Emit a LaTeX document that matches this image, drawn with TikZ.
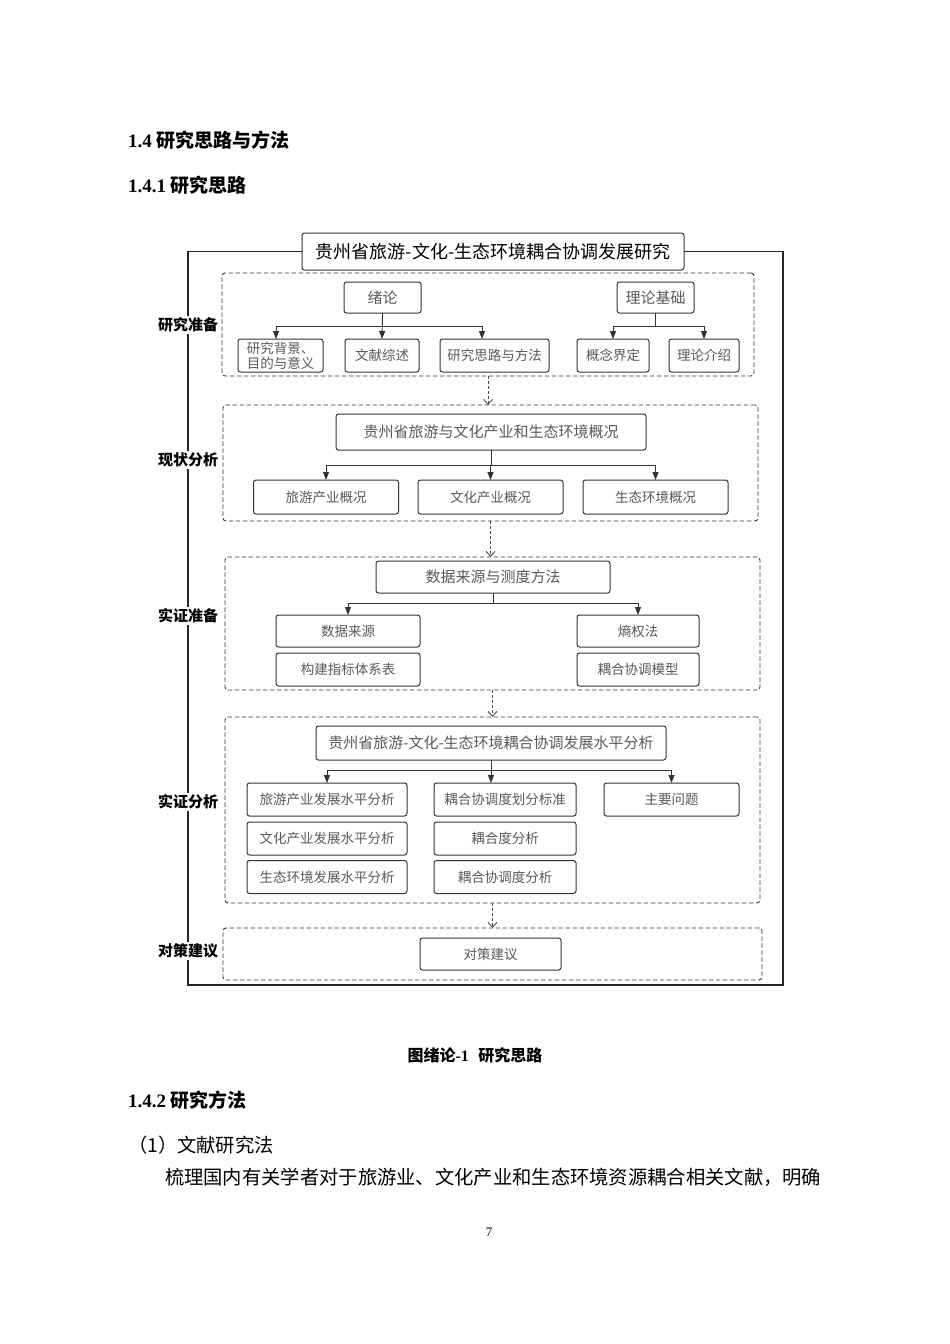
\documentclass[tikz,border=0pt]{standalone}
\usepackage{fontspec}
\setmainfont{Liberation Serif}
\newfontfamily\cjk{Noto Sans CJK SC}
\usetikzlibrary{arrows.meta}

\begin{document}
\begin{tikzpicture}[
    x=1pt,y=-1pt,
    every node/.style={inner sep=0pt, outer sep=0pt},
    frame/.style={draw=black!85, line width=1.1pt},
    stage/.style={draw=black!78, line width=0.9pt, dash pattern=on 4.5pt off 2.5pt, rounded corners=3pt},
    box/.style={draw=black!80, line width=1pt, rounded corners=2.5pt, fill=white, text=black!65, align=center, font=\cjk\fontsize{13.5}{15}\selectfont},
    headbox/.style={box, font=\cjk\fontsize{15}{18}\selectfont},
    tag/.style={fill=white, inner sep=1.5pt, font=\cjk\bfseries\fontsize{15}{18}\selectfont},
    branch/.style={draw=black!80, line width=0.9pt, -{Triangle[length=8pt,width=6pt]}},
    flow/.style={draw=black!70, line width=0.9pt, dash pattern=on 3pt off 2pt, -{Straight Barb[length=5pt,width=9pt]}},
    heading/.style={anchor=west, font=\bfseries\fontsize{19}{23}\selectfont},
    bodytext/.style={anchor=west, font=\cjk\fontsize{19.3}{23}\selectfont}
]
    \fill[white] (0,0) rectangle (950,1344);
    \useasboundingbox (0,0) rectangle (950,1344);

    % headings
    \node[heading] (h14) at (128,140) {1.4 {\cjk 研究思路与方法}};
    \node[heading] (h141) at (128,185) {1.4.1 {\cjk 研究思路}};

    % outer frame with title
    \node[box, text=black, minimum width=382pt, minimum height=37pt, font=\cjk\fontsize{18}{21}\selectfont] (title) at (493,251.5) {贵州省旅游-文化-生态环境耦合协调发展研究};
    \coordinate (fbl) at (188,985);
    \coordinate (ftr) at (783,251.5);
    \draw[frame] (title.west) -| (fbl) -| (ftr) -- (title.east);

    % stages
    \node[stage, minimum width=532pt, minimum height=103pt] (s1) at (488,324.5) {};
    \node[stage, minimum width=535pt, minimum height=116pt] (s2) at (490.5,463) {};
    \node[stage, minimum width=535pt, minimum height=133pt] (s3) at (492.5,623.5) {};
    \node[stage, minimum width=535pt, minimum height=186pt] (s4) at (492.5,810) {};
    \node[stage, minimum width=539pt, minimum height=52pt] (s5) at (492.5,954) {};

    \node[tag] (t1) at (188,325) {研究准备};
    \node[tag] (t2) at (188,460) {现状分析};
    \node[tag] (t3) at (188,616) {实证准备};
    \node[tag] (t4) at (188,802) {实证分析};
    \node[tag] (t5) at (188,951) {对策建议};

    \draw[flow] (s1.south) -- (s1.south |- s2.north);
    \draw[flow] (s2.south) -- (s2.south |- s3.north);
    \draw[flow] (s3.south) -- (s3.south |- s4.north);
    \draw[flow] (s4.south) -- (s4.south |- s5.north);

    % stage 1
    \node[headbox, minimum width=77pt, minimum height=31pt] (xulun) at (382.5,297.5) {绪论};
    \node[headbox, minimum width=77pt, minimum height=31pt] (lilun) at (655.5,297.5) {理论基础};
    \node[box, minimum width=85pt, minimum height=33pt] (bj) at (280.5,355.5) {研究背景、\\目的与意义};
    \node[box, minimum width=74pt, minimum height=33pt] (ws) at (382,355.5) {文献综述};
    \node[box, minimum width=109pt, minimum height=33pt] (sl) at (494.5,355.5) {研究思路与方法};
    \node[box, minimum width=72pt, minimum height=33pt] (gn) at (613,355.5) {概念界定};
    \node[box, minimum width=70pt, minimum height=33pt] (js) at (704,355.5) {理论介绍};
    \draw[branch] (xulun.south) -- ++(0,13) -| ([xshift=-4.5pt]bj.north);
    \draw[branch] (xulun.south) -- (ws.north);
    \draw[branch] (xulun.south) -- ++(0,13) -| ([xshift=-12.5pt]sl.north);
    \draw[branch] (lilun.south) -- ++(0,13) -| (gn.north);
    \draw[branch] (lilun.south) -- ++(0,13) -| (js.north);

    % stage 2
    \node[headbox, minimum width=310pt, minimum height=36pt] (gk) at (491,432) {贵州省旅游与文化产业和生态环境概况};
    \foreach \nm/\x/\lab in {ly/326/旅游产业概况, wh/490.5/文化产业概况, st/655.5/生态环境概况} {
        \node[box, minimum width=145pt, minimum height=34pt] (\nm) at (\x,497) {\lab};
        \draw[branch] (gk.south) -- ++(0,15) -| (\nm.north);
    }

    % stage 3
    \node[headbox, minimum width=234pt, minimum height=32pt] (cd) at (493,577) {数据来源与测度方法};
    \node[box, minimum width=144pt, minimum height=32pt] (sj) at (348,631) {数据来源};
    \node[box, minimum width=144pt, minimum height=33pt] (zb) at (348,669.5) {构建指标体系表};
    \node[box, minimum width=122pt, minimum height=32pt] (sq) at (638,631) {熵权法};
    \node[box, minimum width=122pt, minimum height=33pt] (mx) at (638,669.5) {耦合协调模型};
    \draw[branch] (cd.south) -- ++(0,10) -| (sj.north);
    \draw[branch] (cd.south) -- ++(0,10) -| (sq.north);

    % stage 4
    \node[headbox, minimum width=350pt, minimum height=34pt] (fx) at (491,743) {贵州省旅游-文化-生态环境耦合协调发展水平分析};
    \foreach \nm/\y/\lab in {a1/799.5/旅游产业发展水平分析, a2/838.5/文化产业发展水平分析, a3/877/生态环境发展水平分析} {
        \node[box, minimum width=160pt, minimum height=33pt] (\nm) at (327,\y) {\lab};
    }
    \foreach \nm/\y/\lab in {b1/799.5/耦合协调度划分标准, b2/838.5/耦合度分析, b3/877/耦合协调度分析} {
        \node[box, minimum width=142pt, minimum height=33pt] (\nm) at (505,\y) {\lab};
    }
    \node[box, minimum width=135pt, minimum height=33pt] (wt) at (671.5,799.5) {主要问题};
    \draw[branch] (fx.south) -- ++(0,10) -| (a1.north);
    \draw[branch] (fx.south) -- (fx.south |- b1.north);
    \draw[branch] (fx.south) -- ++(0,10) -| (wt.north);

    % stage 5
    \node[box, minimum width=141pt, minimum height=32pt] (jy) at (490.5,954) {对策建议};

    % caption and text
    \node[font=\bfseries\fontsize{16}{19}\selectfont] (cap) at (475,1055) {{\cjk 图绪论}-1\hspace{0.6em}{\cjk 研究思路}};
    \node[heading] (h142) at (128,1100) {1.4.2 {\cjk 研究方法}};
    \node[bodytext] (m1) at (128,1145) {（1）文献研究法};
    \node[bodytext] (p1) at (165,1177) {梳理国内有关学者对于旅游业、文化产业和生态环境资源耦合相关文献，明确};
    \node[font=\fontsize{13}{15}\selectfont] (pg) at (489,1232) {7};
\end{tikzpicture}
\end{document}
